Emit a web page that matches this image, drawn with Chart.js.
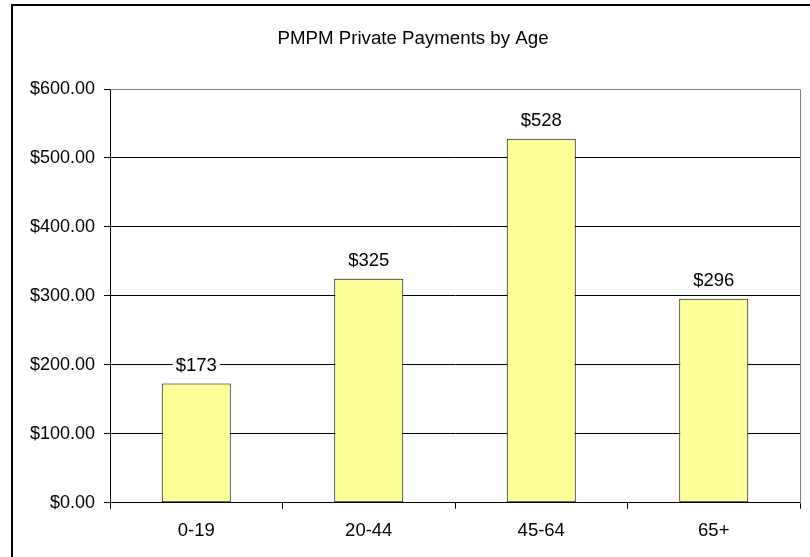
<!DOCTYPE html>
<html>
<head>
<meta charset="utf-8">
<title>PMPM Private Payments by Age</title>
<script src="https://cdn.jsdelivr.net/npm/chart.js@4/dist/chart.umd.min.js"></script>
<style>
  html, body { margin: 0; padding: 0; background: #fff; overflow: hidden; }
  body { width: 810px; height: 557px; position: relative; }
  #wrap { position: absolute; left: 0; top: 0; width: 810px; height: 557px; }
</style>
</head>
<body>
<div id="wrap"><canvas id="chart" width="810" height="557"></canvas></div>
<script>
// ---- DADOS ----
var faixas   = ['0-19', '20-44', '45-64', '65+'];
var valores  = [173, 325, 528, 296];
var yTicks   = [0, 100, 200, 300, 400, 500, 600];
var titulo   = 'PMPM Private Payments by Age';

var FONTE = '"Liberation Sans", Arial, sans-serif';

function fmtTick(v) { return '$' + v.toFixed(2); }

// ---- moldura da figura, título e borda cinza do plot ----
var moldura = {
  id: 'moldura',
  beforeDraw: function(chart) {
    var ctx = chart.ctx;
    ctx.save();
    ctx.fillStyle = '#000';
    ctx.fillRect(11, 4, chart.width - 11, 2);
    ctx.fillRect(11, 4, 2, chart.height - 4);
    // título centrado na moldura (que começa em x=11)
    ctx.font = '18.7px ' + FONTE;
    ctx.textAlign = 'center';
    ctx.textBaseline = 'middle';
    ctx.fillText(titulo, 413, 39);
    ctx.restore();
  },
  afterDraw: function(chart) {
    var a = chart.chartArea, ctx = chart.ctx;
    ctx.save();
    ctx.strokeStyle = '#808080';
    ctx.lineWidth = 1;
    ctx.beginPath();
    ctx.moveTo(Math.round(a.left) + 0.5, Math.round(a.top) + 0.5);
    ctx.lineTo(Math.round(a.right) + 0.5, Math.round(a.top) + 0.5);
    ctx.lineTo(Math.round(a.right) + 0.5, Math.round(a.bottom) + 0.5);
    ctx.stroke();
    ctx.restore();
  }
};

// ---- rótulos acima das barras, com fundo branco ----
var barLabels = {
  id: 'barLabels',
  afterDatasetsDraw: function(chart) {
    var ctx = chart.ctx;
    var meta = chart.getDatasetMeta(0);
    ctx.save();
    ctx.font = '18.5px ' + FONTE;
    ctx.textAlign = 'center';
    ctx.textBaseline = 'middle';
    meta.data.forEach(function(bar, i) {
      var txt = '$' + valores[i];
      var w = ctx.measureText(txt).width;
      var y = bar.y - 18;
      ctx.fillStyle = '#fff';
      ctx.fillRect(bar.x - w / 2 - 3, y - 9, w + 6, 18);
      ctx.fillStyle = '#000';
      ctx.fillText(txt, bar.x, y);
    });
    ctx.restore();
  }
};

// ---- CHART ----
new Chart(document.getElementById('chart'), {
  type: 'bar',
  data: {
    labels: faixas,
    datasets: [{
      data: valores,
      backgroundColor: '#FFFF99',
      borderColor: '#000',
      borderWidth: 1,
      borderSkipped: false,
      barPercentage: 0.4,
      categoryPercentage: 1
    }]
  },
  options: {
    responsive: false,
    animation: false,
    devicePixelRatio: 1,
    layout: { padding: { left: 0, right: 10, top: 89, bottom: 4 } },
    plugins: {
      legend: { display: false },
      tooltip: { enabled: false },
      title: { display: false }
    },
    scales: {
      x: {
        grid: { drawOnChartArea: false, drawTicks: true, tickLength: 6, color: '#000' },
        border: { color: '#000' },
        ticks: { color: '#000', padding: 11, font: { family: FONTE, size: 18.5 } }
      },
      y: {
        min: 0, max: 600,
        afterBuildTicks: function(s) { s.ticks = yTicks.map(function(v) { return { value: v }; }); },
        afterFit: function(s) { s.width = 110; },
        grid: { color: '#000', tickLength: 6, drawTicks: true },
        border: { color: '#000' },
        ticks: { color: '#000', padding: 9, font: { family: FONTE, size: 18 },
                 callback: function(v) { return fmtTick(v); } }
      }
    }
  },
  plugins: [moldura, barLabels]
});
</script>
</body>
</html>
